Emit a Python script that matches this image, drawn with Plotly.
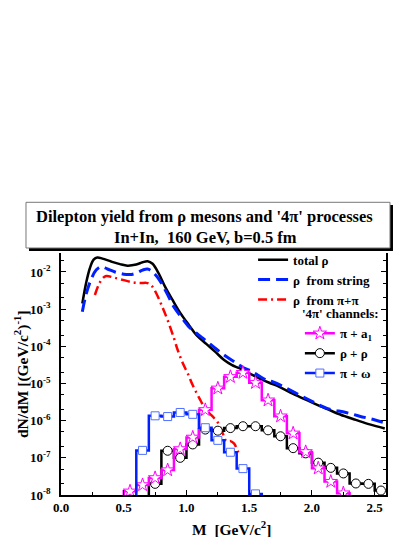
import plotly.graph_objects as go

# --- smooth curves (log10 of dN/dM) ---
m_total = [0.17, 0.20, 0.23, 0.26, 0.29, 0.33, 0.40, 0.47, 0.53, 0.60, 0.65, 0.69, 0.73, 0.78,
           0.83, 0.89, 0.95, 1.02, 1.08, 1.16, 1.23, 1.30, 1.36, 1.42, 1.50, 1.58, 1.66, 1.74,
           1.85, 1.96, 2.06, 2.17, 2.26, 2.35, 2.46, 2.58]
lg_total = [-2.85, -2.30, -1.90, -1.67, -1.61, -1.64, -1.72, -1.79, -1.83, -1.80, -1.74, -1.71,
            -1.78, -2.05, -2.40, -2.76, -3.10, -3.43, -3.70, -3.94, -4.15, -4.37, -4.50, -4.59,
            -4.73, -4.86, -4.98, -5.09, -5.28, -5.45, -5.60, -5.76, -5.88, -5.98, -6.10, -6.21]

m_string = [0.17, 0.20, 0.24, 0.28, 0.32, 0.37, 0.43, 0.50, 0.55, 0.60, 0.65, 0.69, 0.73, 0.785,
            0.84, 0.90, 0.96, 1.02, 1.08, 1.16, 1.24, 1.32, 1.40, 1.45, 1.50, 1.57, 1.64, 1.69,
            1.77, 1.90, 2.00, 2.12, 2.27, 2.38, 2.49, 2.58]
lg_string = [-3.07, -2.60, -2.20, -1.95, -1.86, -1.92, -2.00, -2.06, -2.07, -2.03, -1.95, -1.92,
             -2.00, -2.22, -2.55, -2.94, -3.22, -3.48, -3.65, -3.86, -4.08, -4.28, -4.46, -4.57,
             -4.64, -4.78, -4.91, -4.96, -5.08, -5.31, -5.48, -5.67, -5.78, -5.88, -5.97, -6.06]

m_pipi = [0.27, 0.30, 0.33, 0.36, 0.42, 0.50, 0.57, 0.63, 0.69, 0.73, 0.76, 0.80, 0.85, 0.90,
          0.93, 0.97, 1.01, 1.05, 1.10, 1.15, 1.20, 1.25, 1.29, 1.31, 1.33, 1.35, 1.38, 1.40, 1.42]
lg_pipi = [-2.62, -2.35, -2.18, -2.11, -2.15, -2.22, -2.28, -2.30, -2.30, -2.40, -2.58, -2.88,
           -3.30, -3.78, -4.10, -4.45, -4.73, -5.05, -5.38, -5.68, -5.86, -6.05, -6.35, -6.52,
           -6.56, -6.55, -6.62, -6.75, -6.92]

# --- '4pi' histograms, bin centres (0.1 GeV bins); -9 = below the axis ---
m_a1 = [0.45, 0.55, 0.65, 0.75, 0.85, 0.95, 1.05, 1.15, 1.25, 1.35, 1.45, 1.55, 1.65, 1.75,
        1.85, 1.95, 2.05, 2.15, 2.25, 2.35]
lg_a1 = [-9, -7.90, -7.73, -7.54, -7.33, -6.76, -6.45, -5.71, -5.13, -4.82, -4.71, -4.98, -5.45,
         -5.88, -6.34, -6.84, -7.28, -7.64, -7.95, -9]

m_rhorho = [0.65, 0.75, 0.85, 0.95, 1.05, 1.15, 1.25, 1.35, 1.45, 1.55, 1.65, 1.75, 1.85, 1.95,
            2.05, 2.15, 2.25, 2.35, 2.45, 2.55]
lg_rhorho = [-9, -7.70, -6.81, -7.00, -6.64, -6.24, -6.27, -6.20, -6.15, -6.15, -6.26, -6.42,
             -6.74, -6.88, -7.13, -7.27, -7.42, -7.69, -7.70, -7.88]

m_omega = [0.55, 0.65, 0.75, 0.85, 0.95, 1.05, 1.15, 1.25, 1.35, 1.45, 1.55, 1.65]
lg_omega = [-9, -6.80, -5.87, -5.89, -5.78, -5.83, -6.19, -6.53, -6.85, -7.29, -7.97, -9]

ytick_pow = [-8, -7, -6, -5, -4, -3, -2]
xtick_vals = [0.0, 0.5, 1.0, 1.5, 2.0, 2.5]

FONT = "Liberation Serif, Times New Roman, serif"


def lin(v):
    return [10 ** a for a in v]


fig = go.Figure()

fig.add_trace(go.Scatter(x=m_total, y=lin(lg_total), mode="lines", name="total ρ",
                         line=dict(color="black", width=2.5, shape="spline"),
                         legend="legend", legendrank=1))
fig.add_trace(go.Scatter(x=m_string, y=lin(lg_string), mode="lines",
                         name="ρ\u00a0\u00a0from string",
                         line=dict(color="#0020ff", width=3, dash="12px,6px", shape="spline"),
                         legend="legend", legendrank=2))
fig.add_trace(go.Scatter(x=m_pipi, y=lin(lg_pipi), mode="lines",
                         name="ρ\u00a0\u00a0from π+π",
                         line=dict(color="red", width=2.5, dash="9px,4px,2px,4px", shape="spline"),
                         legend="legend", legendrank=3))

fig.add_trace(go.Scatter(x=m_rhorho, y=lin(lg_rhorho), mode="lines+markers", name="ρ + ρ",
                         line=dict(color="black", width=2.5, shape="hvh"),
                         marker=dict(symbol="circle", size=9, color="white",
                                     line=dict(color="black", width=1)),
                         legend="legend2", legendrank=5))
fig.add_trace(go.Scatter(x=m_a1, y=lin(lg_a1), mode="lines+markers",
                         name="π + a<sub>1</sub>",
                         line=dict(color="#ff00ff", width=2.5, shape="hvh"),
                         marker=dict(symbol="star", size=10, color="white",
                                     line=dict(color="#ff00ff", width=1)),
                         legend="legend2", legendrank=4))
fig.add_trace(go.Scatter(x=m_omega, y=lin(lg_omega), mode="lines+markers", name="π + ω",
                         line=dict(color="#0020ff", width=2.5, shape="hvh"),
                         marker=dict(symbol="square", size=8, color="white",
                                     line=dict(color="#5070ff", width=1)),
                         legend="legend2", legendrank=6))

# title box with drop shadow
fig.add_shape(type="rect", xref="paper", yref="paper", x0=-0.0985, x1=1.0215, y0=1.0083,
              y1=1.198, fillcolor="black", line=dict(width=0), layer="above")
fig.add_shape(type="rect", xref="paper", yref="paper", x0=-0.1077, x1=1.0123, y0=1.0207,
              y1=1.2095, fillcolor="white", line=dict(color="#777777", width=1), layer="above")
fig.add_annotation(x=0.4415, y=1.150, xref="paper", yref="paper", showarrow=False,
                   xanchor="center", yanchor="middle",
                   text="Dilepton yield from ρ mesons and '4π' processes",
                   font=dict(size=16.5, color="black"))
fig.add_annotation(x=0.444, y=1.062, xref="paper", yref="paper", showarrow=False,
                   xanchor="center", yanchor="middle",
                   text="In+In,\u00a0\u00a0160 GeV, b=0.5 fm",
                   font=dict(size=16.5, color="black"))

# axis titles
fig.add_annotation(x=-0.123, y=0.5, xref="paper", yref="paper", showarrow=False, textangle=-90,
                   xanchor="center", yanchor="middle",
                   text="dN/dM [(GeV/c<sup>2</sup>)<sup>-1</sup>]",
                   font=dict(size=15.5, color="black"))
fig.add_annotation(x=0.526, y=-0.136, xref="paper", yref="paper", showarrow=False,
                   xanchor="center", yanchor="middle",
                   text="M\u00a0\u00a0[GeV/c<sup>2</sup>]", font=dict(size=15.5, color="black"))

fig.update_layout(
    width=415, height=537,
    margin=dict(l=53, r=37, t=245, b=50),
    paper_bgcolor="white", plot_bgcolor="white",
    font=dict(family=FONT, weight="bold", color="black", size=13),
    legend=dict(x=0.591, y=1.034, xanchor="left", yanchor="top", bgcolor="rgba(0,0,0,0)",
                font=dict(size=13), itemwidth=30, tracegroupgap=0),
    legend2=dict(x=0.735, y=0.80, xanchor="left", yanchor="top", bgcolor="rgba(0,0,0,0)",
                 font=dict(size=13), itemwidth=30,
                 title=dict(text="'4π' channels:", font=dict(size=13))),
    xaxis=dict(range=[0, 2.59], showline=True, linecolor="black", linewidth=1.5,
               automargin=False,
               ticks="inside", ticklen=5, tickwidth=1.2, tickcolor="black",
               tickvals=xtick_vals, ticktext=[f"{v:.1f}" for v in xtick_vals],
               minor=dict(dtick=0.25, ticks="inside", ticklen=3, tickcolor="black"),
               showgrid=False, zeroline=False, tickfont=dict(size=13)),
    yaxis=dict(type="log", range=[-8, -1.49], showline=True, linecolor="black", linewidth=1.5,
               automargin=False, ticklabelstandoff=6,
               mirror="ticks", ticks="inside", ticklen=5, tickwidth=1.2, tickcolor="black",
               tickvals=[10 ** p for p in ytick_pow],
               ticktext=[f"10<sup>{p}</sup>" for p in ytick_pow],
               minor=dict(ticks="inside", ticklen=3, tickcolor="black", showgrid=False),
               showgrid=False, zeroline=False, tickfont=dict(size=13)),
)

fig.write_html("out.html")
